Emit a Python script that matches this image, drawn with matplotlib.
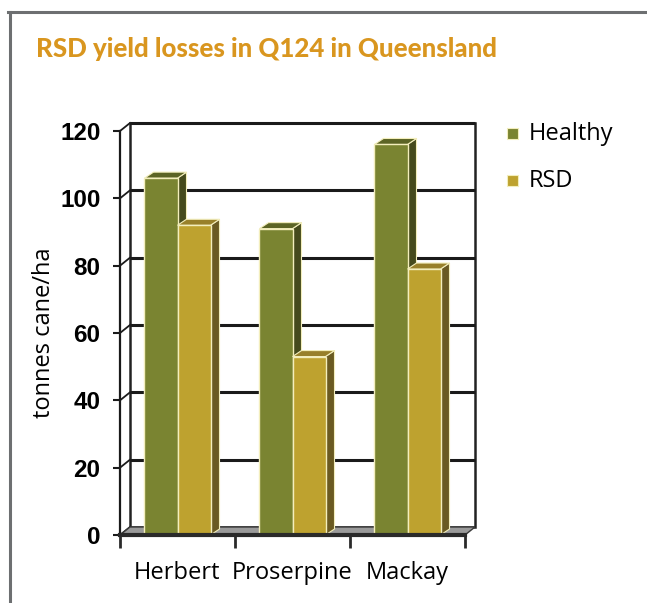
import matplotlib
matplotlib.use("Agg")
import matplotlib.pyplot as plt
from matplotlib.patches import Polygon, Rectangle
from matplotlib.lines import Line2D
import numpy as np

# ---- data ----
categories = ["Herbert", "Proserpine", "Mackay"]
series_names = ["Healthy", "RSD"]
healthy = [106, 91, 116]
rsd = [92, 53, 79]
yticks = [0, 20, 40, 60, 80, 100, 120]

# ---- style ----
front_cols = ["#7a8431", "#bea22f"]
side_cols = ["#454a1c", "#6a5a22"]
top_cols = ["#5c6425", "#98802a"]
edge_col = "#f3eebc"
title_col = "#d9961f"

W, H, DPI = 647, 603, 100
fig = plt.figure(figsize=(W / DPI, H / DPI), dpi=DPI)
fig.patch.set_facecolor("white")

# frame lines (gray border top and left)
fig.add_artist(Line2D([8 / W, 1.0], [1 - 12 / H, 1 - 12 / H], color="#6d6f71", lw=2.2,
                      transform=fig.transFigure))
fig.add_artist(Line2D([9.5 / W, 9.5 / W], [1 - 12 / H, 0], color="#6d6f71", lw=2.2,
                      transform=fig.transFigure))

left, right = 120 / W, 465 / W
bottom, top = (H - 535) / H, (H - 131) / H
ax = fig.add_axes([left, bottom, right - left, top - bottom])
ax.set_xlim(0, 3)
ax.set_ylim(0, 120)
ax.patch.set_visible(False)

dx, dy = 10 / 115, 8 / 3.367      # back wall offset
bdx, bdy = 9 / 115, 6 / 3.367     # bar depth
bw = 0.287

# floor
floor = Polygon([(0, 0), (3, 0), (3 + dx, dy), (dx, dy)], closed=True,
                facecolor="#9a9a9a", edgecolor="#3a3a3a", lw=1.0, zorder=1, clip_on=False)
ax.add_patch(floor)
# back wall
ax.add_patch(Rectangle((dx, dy), 3, 120, facecolor="white", edgecolor="#222222",
                       lw=1.8, zorder=0.5, clip_on=False))
for v in yticks[1:]:
    ax.plot([dx, 3 + dx], [v + dy, v + dy], color="#1a1a1a", lw=2.2, zorder=0.8,
            clip_on=False, solid_capstyle="butt")
for v in yticks:
    ax.plot([0, dx], [v, v + dy], color="#1a1a1a", lw=1.3, zorder=0.8, clip_on=False)

# bars
x_centers = np.arange(len(categories)) + 0.5
for i, xc in enumerate(x_centers):
    for s, vals in enumerate([healthy, rsd]):
        v = vals[i]
        x0 = xc - bw + s * bw
        x1 = x0 + bw
        z = 2 + i * 0.1 + s * 0.02
        side = Polygon([(x1, 0), (x1 + bdx, bdy), (x1 + bdx, v + bdy), (x1, v)], closed=True,
                       facecolor=side_cols[s], edgecolor=edge_col, lw=0.8, zorder=z)
        topf = Polygon([(x0, v), (x1, v), (x1 + bdx, v + bdy), (x0 + bdx, v + bdy)], closed=True,
                       facecolor=top_cols[s], edgecolor=edge_col, lw=0.8, zorder=z + 0.001)
        ax.add_patch(side)
        ax.add_patch(topf)
        ax.bar(x0, v, width=bw, align="edge", color=front_cols[s], edgecolor=edge_col,
               lw=1.0, zorder=z + 0.002)

# axes styling
for sp in ["top", "right"]:
    ax.spines[sp].set_visible(False)
ax.spines["left"].set_color("#1a1a1a")
ax.spines["left"].set_linewidth(1.6)
ax.spines["bottom"].set_color("#2a2a2a")
ax.spines["bottom"].set_linewidth(3)
ax.spines["bottom"].set_zorder(5)

ax.set_yticks(yticks)
ax.set_yticklabels([str(t) for t in yticks], fontsize=17.5, fontweight="bold",
                   family="Liberation Sans")
ax.tick_params(axis="y", length=5, width=1.5, color="#1a1a1a", pad=9)

ax.set_xticks([0, 1, 2, 3])
ax.set_xticklabels([])
ax.tick_params(axis="x", which="major", length=9, width=2, color="#2a2a2a")
ax.set_xticks(x_centers, minor=True)
ax.set_xticklabels(categories, minor=True, fontsize=17, family="Open Sans")
ax.tick_params(axis="x", which="minor", length=0, pad=19)

ax.set_ylabel("tonnes cane/ha", fontsize=17, family="Open Sans", labelpad=3)

# title
title = fig.text(267 / W, 1 - 49 / H, "RSD yield losses in Q124 in Queensland",
                 color=title_col, fontsize=20, fontweight=900, family="Lato",
                 ha="center", va="center")
fig.canvas.draw()
bb = title.get_window_extent()
title.set_fontsize(20 * 462 / bb.width)

# legend
for s, name in enumerate(series_names):
    yy = 1 - (134 + s * 47) / H
    fig.add_artist(Rectangle((507 / W, yy - 5 / H), 11 / W, 11 / H, transform=fig.transFigure,
                             facecolor=front_cols[s], edgecolor="#f3eebc", lw=0.8))
    fig.text(529 / W, yy, name, fontsize=17, family="Open Sans", ha="left", va="center")

fig.savefig("out.png", dpi=DPI)
